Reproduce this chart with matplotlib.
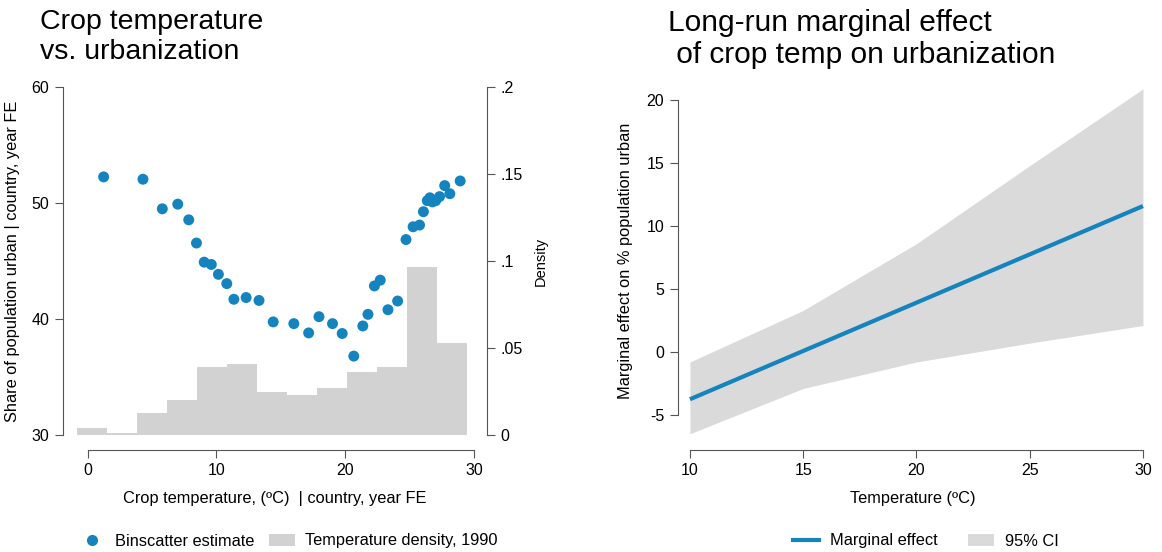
import numpy as np
import matplotlib.pyplot as plt
from matplotlib.lines import Line2D
from matplotlib.patches import Patch

plt.rcParams['font.family'] = ['Liberation Sans', 'DejaVu Sans']

# binscatter: crop temperature (C) vs share urban
bin_temp = [1.25, 4.3, 5.8, 7.0, 7.85, 8.45, 9.05, 9.6, 10.15, 10.8, 11.35, 12.3, 13.3,
            14.4, 16.0, 17.15, 17.95, 19.0, 19.75, 20.65, 21.35, 21.75, 22.25, 22.7,
            23.3, 24.05, 24.7, 25.25, 25.75, 26.05, 26.35, 26.55, 26.75, 27.0, 27.3,
            27.7, 28.1, 28.9]
bin_urban = [52.25, 52.05, 49.5, 49.9, 48.55, 46.55, 44.9, 44.7, 43.85, 43.05, 41.7, 41.85,
             41.6, 39.75, 39.6, 38.8, 40.2, 39.6, 38.75, 36.8, 39.4, 40.4, 42.85, 43.35,
             40.8, 41.55, 46.85, 47.95, 48.1, 49.25, 50.2, 50.45, 50.1, 50.2, 50.55,
             51.5, 50.8, 51.9]

# temperature density histogram, 1990
hist_edges = [-0.83, 1.5, 3.82, 6.15, 8.47, 10.8, 13.12, 15.45, 17.77, 20.1, 22.42, 24.75, 27.07, 29.4]
hist_density = [0.0038, 0.001, 0.0128, 0.020, 0.039, 0.041, 0.0245, 0.023, 0.027, 0.036, 0.039, 0.0966, 0.053]

# long-run marginal effect with 95% CI
me_temp = [10, 30]
me_value = [-3.76, 11.59]
ci_temp = [10, 15, 20, 25, 30]
ci_upper = [-0.8, 3.3, 8.6, 14.8, 20.9]
ci_lower = [-6.5, -2.9, -0.8, 0.7, 2.1]

blue = '#1583bd'
grey = '#d2d2d2'
W, H = 1162, 552
fs_tick = 11.5
fs_lab = 11.8

fig = plt.figure(figsize=(W / 100, H / 100), dpi=100)


def box(l, r, t, b):
    return [l / W, 1 - b / H, (r - l) / W, (b - t) / H]


def stata_spines(ax):
    for s in ['top', 'right']:
        ax.spines[s].set_visible(False)
    ax.spines['bottom'].set_position(('outward', 11))
    ax.spines['left'].set_color('#555555')
    ax.spines['bottom'].set_color('#555555')
    ax.tick_params(colors='#555555', labelcolor='black', labelsize=fs_tick, length=6, width=0.8)


# left panel
ax1 = fig.add_axes(box(62.5, 487.5, 87, 435))
ax1.set_zorder(2)
ax1.patch.set_visible(False)
ax2 = ax1.twinx()
ax2.set_zorder(1)
ax2.bar(hist_edges[:-1], hist_density, width=np.diff(hist_edges), align='edge',
        color=grey, edgecolor='none')
ax2.set_ylim(0, 0.2)
ax2.set_yticks([0, 0.05, 0.1, 0.15, 0.2])
ax2.set_yticklabels(['0', '.05', '.1', '.15', '.2'])
for s in ['top', 'left', 'bottom']:
    ax2.spines[s].set_visible(False)
ax2.spines['right'].set_color('#555555')
ax2.tick_params(colors='#555555', labelcolor='black', labelsize=fs_tick, length=6, width=0.8)
ax2.set_ylabel('Density', fontsize=10.5, labelpad=8)

ax1.scatter(bin_temp, bin_urban, s=62, color=blue, edgecolors='none', zorder=3)
ax1.set_xlim(-1.94, 31.02)
ax1.set_ylim(30, 60)
ax1.set_xticks([0, 10, 20, 30])
ax1.set_yticks([30, 40, 50, 60])
stata_spines(ax1)
ax1.spines['bottom'].set_bounds(0, 30)
ax1.set_ylabel('Share of population urban | country, year FE', fontsize=fs_lab, labelpad=8)
ax1.set_xlabel('Crop temperature, (ºC)  | country, year FE', fontsize=fs_lab, labelpad=9)

fig.text(40 / W, 1 - 9 / H, 'Crop temperature\nvs. urbanization', fontsize=20.5,
         ha='left', va='top', linespacing=1.2)

h1 = [Line2D([], [], marker='o', ls='none', color=blue, markersize=7),
      Patch(facecolor=grey, edgecolor='none')]
fig.legend(h1, ['Binscatter estimate', 'Temperature density, 1990'], loc='center left',
           bbox_to_anchor=(64 / W, 1 - 541 / H), ncol=2, frameon=False, fontsize=fs_lab,
           handlelength=1.6, columnspacing=0.9, handletextpad=0.6)

# right panel
ax3 = fig.add_axes(box(677.5, 1147.5, 87, 435))
ax3.fill_between(ci_temp, ci_lower, ci_upper, color='#dadada', linewidth=0)
ax3.plot(me_temp, me_value, color=blue, lw=3, solid_capstyle='butt')
ax3.set_xlim(9.45, 30.2)
ax3.set_ylim(-6.6, 21.05)
ax3.set_xticks([10, 15, 20, 25, 30])
ax3.set_yticks([-5, 0, 5, 10, 15, 20])
ax3.set_yticklabels(['-5', '0', '5', '10', '15', '20'])
stata_spines(ax3)
ax3.spines['bottom'].set_bounds(10, 30)
ax3.spines['left'].set_bounds(-5, 20)
ax3.set_ylabel('Marginal effect on % population urban', fontsize=fs_lab, labelpad=10)
ax3.set_xlabel('Temperature (ºC)', fontsize=fs_lab, labelpad=9)

fig.text(668 / W, 1 - 9 / H, 'Long-run marginal effect\n of crop temp on urbanization',
         fontsize=21.5, ha='left', va='top', linespacing=1.2)

h2 = [Line2D([], [], color=blue, lw=3), Patch(facecolor='#dadada', edgecolor='none')]
fig.legend(h2, ['Marginal effect', '95% CI'], loc='center left',
           bbox_to_anchor=(778 / W, 1 - 541 / H), ncol=2, frameon=False, fontsize=fs_lab,
           handlelength=1.6, columnspacing=1.8, handletextpad=0.7)

fig.savefig('out.png', dpi=100)
